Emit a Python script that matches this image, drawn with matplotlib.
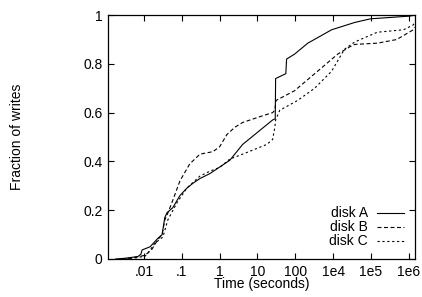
import numpy as np
import matplotlib
matplotlib.use("Agg")
import matplotlib.pyplot as plt

plt.rcParams['font.family'] = ['Liberation Sans', 'DejaVu Sans']

# x values are log10 of the tick position (ticks .01 ... 1e6 sit one decade apart)
a_logt = [-2.75, -2.5, -2.16, -2.08, -2.05, -1.84, -1.63, -1.52, -1.45, -1.39, -1.24,
          -1.05, -0.87, -0.71, -0.52, -0.26, 0.27, 0.61, 1.40, 1.47, 1.48, 1.75, 1.77,
          1.98, 2.33, 2.96, 3.57, 3.99, 5.02, 5.15]
a_frac = [0.0, 0.003, 0.01, 0.02, 0.037, 0.05, 0.085, 0.10, 0.17, 0.19, 0.21,
          0.26, 0.29, 0.31, 0.33, 0.35, 0.405, 0.47, 0.57, 0.575, 0.74, 0.76, 0.82,
          0.84, 0.885, 0.94, 0.97, 0.985, 0.996, 1.0]

b_logt = [-2.6, -2.37, -1.97, -1.79, -1.63, -1.52, -1.45, -1.39, -1.24, -1.05, -0.79,
          -0.52, -0.18, 0.0, 0.19, 0.40, 0.61, 1.19, 1.40, 1.46, 1.49, 1.98, 2.59,
          3.12, 3.44, 3.57, 4.17, 4.68, 5.12, 5.15]
b_frac = [0.0, 0.003, 0.015, 0.04, 0.08, 0.10, 0.16, 0.18, 0.24, 0.32, 0.39,
          0.43, 0.44, 0.46, 0.51, 0.54, 0.56, 0.59, 0.60, 0.61, 0.65, 0.69, 0.77,
          0.84, 0.87, 0.88, 0.885, 0.90, 0.94, 0.95]

c_logt = [-2.5, -2.2, -1.97, -1.89, -1.71, -1.50, -1.37, -1.13, -0.87, -0.52, -0.26,
          0.0, 0.27, 0.61, 1.25, 1.40, 1.46, 1.48, 1.59, 2.06, 2.51, 2.96, 3.30,
          3.57, 4.17, 4.86, 5.12, 5.15]
c_frac = [0.0, 0.005, 0.012, 0.025, 0.065, 0.09, 0.16, 0.23, 0.29, 0.34, 0.36,
          0.375, 0.41, 0.43, 0.47, 0.49, 0.54, 0.57, 0.61, 0.65, 0.70, 0.77, 0.86,
          0.89, 0.93, 0.94, 0.96, 0.97]

tick_pos = [0.01, 0.1, 1, 10, 100, 1000, 1e4, 1e5]
tick_labels = ['.01', '.1', '1', '10', '100', '1e4', '1e5', '1e6']

fig = plt.figure(figsize=(4.22, 2.97), dpi=100)
ax = fig.add_axes([0.256, 0.128, 0.727, 0.821])

lw = 0.8
ax.plot(10**np.array(a_logt), a_frac, color='black', lw=lw, label='disk A')
ax.plot(10**np.array(b_logt), b_frac, color='black', lw=lw, dashes=(3.6, 2.25), label='disk B')
ax.plot(10**np.array(c_logt), c_frac, color='black', lw=lw, dashes=(2.0, 2.4), label='disk C')

ax.set_xscale('log')
ax.set_xlim(10**-2.95, 10**5.16)
ax.set_ylim(0, 1)
ax.set_xticks(tick_pos)
ax.set_xticklabels(tick_labels)
ax.xaxis.set_minor_locator(matplotlib.ticker.NullLocator())
ax.set_yticks([0, 0.2, 0.4, 0.6, 0.8, 1])
ax.set_yticklabels(['0', '0.2', '0.4', '0.6', '0.8', '1'])
ax.tick_params(direction='in', length=4, width=0.8, top=True, right=True, labelsize=10, pad=4)
for s in ax.spines.values():
    s.set_linewidth(0.9)

ax.set_xlabel('Time (seconds)', fontsize=10, labelpad=-1)
fig.text(0.04, 0.539, 'Fraction of writes', rotation=90, ha='center', va='center', fontsize=10)

ax.legend(loc='lower right', bbox_to_anchor=(0.964, 0.043), frameon=False, markerfirst=False,
          fontsize=10, handlelength=1.9, handletextpad=0.7, labelspacing=0.0, borderpad=0.0,
          borderaxespad=0.0)

fig.savefig('out.png', dpi=100)
